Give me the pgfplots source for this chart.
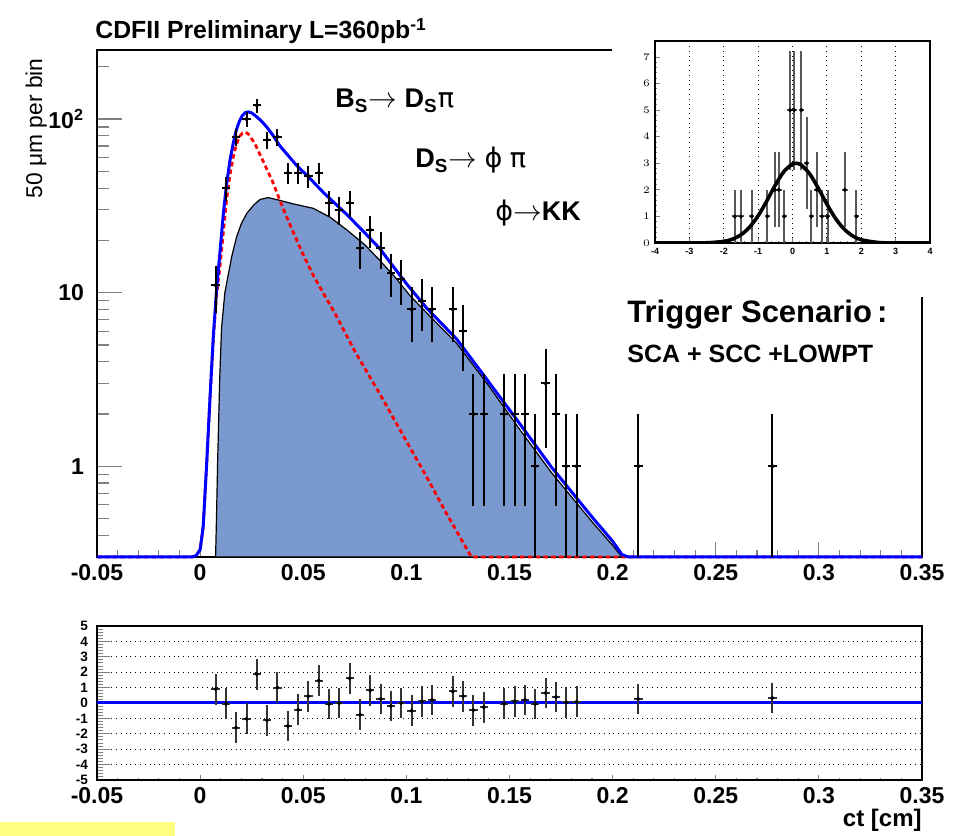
\documentclass[border=0pt]{standalone}
\usepackage{fontspec}
\setmainfont{Liberation Sans}
\newfontfamily\symf{DejaVu Sans}
\usepackage{pgfplots}
\usepackage{pgfplotstable}
\pgfplotsset{compat=1.18}
\definecolor{fillblue}{RGB}{122,153,206}
\definecolor{hiyellow}{RGB}{255,255,128}

\pgfplotstableread{
x y ep em
0.0075 11 3.32 3.32
0.0125 40 6.32 6.32
0.0175 79 8.89 8.89
0.0225 100 10 10
0.0275 120 10.95 10.95
0.0325 76 8.72 8.72
0.0375 79 8.89 8.89
0.0425 49 7 7
0.0475 49 7 7
0.0525 47 6.86 6.86
0.0575 49 7 7
0.0625 33 5.74 5.74
0.0675 30 5.48 5.48
0.0725 33 5.74 5.74
0.0775 18 4.24 4.24
0.0825 23 4.80 4.80
0.0875 18 4.24 4.24
0.0925 13 3.61 3.61
0.0975 12 3.46 3.46
0.1025 8 2.83 2.83
0.1075 9 3 3
0.1125 8 2.83 2.83
0.1225 8 2.83 2.83
0.1275 6 2.45 2.45
0.1325 2 1.41 1.41
0.1375 2 1.41 1.41
0.1475 2 1.41 1.41
0.1525 2 1.41 1.41
0.1575 2 1.41 1.41
0.1625 1 1 0.7
0.1675 3 1.73 1.73
0.1725 2 1.41 1.41
0.1775 1 1 0.7
0.1825 1 1 0.7
0.2125 1 1 0.7
0.2775 1 1 0.7
}\maindata

\pgfplotstableread{
x y
0.0075 0.9
0.0125 -0.05
0.0175 -1.6
0.0225 -1.03
0.0275 1.87
0.0325 -1.12
0.0375 1.0
0.0425 -1.5
0.0475 -0.43
0.0525 0.43
0.0575 1.46
0.0625 -0.06
0.0675 0
0.0725 1.6
0.0775 -0.75
0.0825 0.82
0.0875 0.26
0.0925 -0.2
0.0975 0
0.1025 -0.5
0.1075 0.1
0.1125 0.2
0.1225 0.75
0.1275 0.43
0.1325 -0.47
0.1375 -0.28
0.1475 -0.04
0.1525 0.1
0.1575 0.2
0.1625 -0.06
0.1675 0.65
0.1725 0.39
0.1775 0.04
0.1825 0.08
0.2125 0.26
0.2775 0.32
}\resdata

\pgfplotstableread{
x y e
-1.68 1 1
-1.50 1 1
-1.19 1 1
-0.73 1 1
-0.51 2 1.41
-0.40 2 1.41
-0.24 1 1
-0.07 5 2.24
0.05 5 2.24
0.26 5 2.24
0.41 3 1.73
0.55 1 1
0.70 2 1.41
0.86 1 1
1.02 1 1
1.52 2 1.41
1.86 1 1
}\pulldata

\newcommand{\tl}{\bfseries\fontsize{11.5bp}{13bp}\selectfont}

\begin{document}
\begin{tikzpicture}
\path[use as bounding box] (0,0) rectangle (479bp,418bp);
\fill[hiyellow] (0,0) rectangle (87.5bp,7bp);

% ---------------- main panel
\begin{axis}[
  at={(48.5bp,139.5bp)}, anchor=south west,
  scale only axis, width=412.5bp, height=253.5bp,
  xmin=-0.05, xmax=0.35, ymode=log, ymin=0.3, ymax=250,
  xtick={-0.05,0,0.05,0.1,0.15,0.2,0.25,0.3,0.35},
  xticklabels={-0.05,0,0.05,0.1,0.15,0.2,0.25,0.3,0.35},
  minor x tick num=4,
  ytick={1,10,100}, yticklabels={1,10,10\textsuperscript{2}},
  minor ytick={0.4,0.5,0.6,0.7,0.8,0.9,2,3,4,5,6,7,8,9,20,30,40,50,60,70,80,90,200},
  tick align=inside, xtick pos=bottom, ytick pos=left,
  tick label style={font=\tl},
  yticklabel style={xshift=-3bp},
  xtick style={/pgfplots/major tick length=7.5bp,/pgfplots/minor tick length=3.5bp, line width=0.6bp},
  ytick style={/pgfplots/major tick length=12.5bp,/pgfplots/minor tick length=6bp, line width=0.6bp},
  axis line style={line width=0.8bp},
  clip=false,
]
\addplot[draw=black, line width=0.6bp, fill=fillblue] coordinates {
(0.0075,0.3) (0.008,0.55) (0.0085,1.08) (0.0095,3.2) (0.0104,6.3) (0.012,10)
(0.0137,12.8) (0.0155,16.5) (0.0177,21) (0.02,25) (0.0226,28.6) (0.026,32)
(0.029,34.4) (0.033,35.3) (0.0387,34) (0.045,32.5) (0.0549,30.6) (0.063,27.2)
(0.0711,23) (0.08,18.8) (0.0872,15.3) (0.095,12.1) (0.1018,9.6) (0.112,7.2)
(0.1244,5.1) (0.14,2.9) (0.1551,1.62) (0.17,0.93) (0.1842,0.58) (0.1906,0.47)
(0.2,0.35) (0.2045,0.3)} -- cycle;
\addplot[red, line width=1.4bp, dash pattern=on 2.3bp off 1.6bp] coordinates {
(-0.05,0.3) (-0.004,0.3) (-0.002,0.305) (0,0.33) (0.0015,0.45) (0.0032,1.04)
(0.0048,2.45) (0.0064,5.4) (0.008,9.8) (0.0096,14) (0.0112,22) (0.0128,34)
(0.0145,48) (0.016,60) (0.0175,71) (0.019,79) (0.0205,83) (0.022,84)
(0.0234,82) (0.025,77) (0.0266,72) (0.03,59) (0.035,44) (0.04,31)
(0.045,22.5) (0.05,16.5) (0.055,12.5) (0.06,9.8) (0.0654,7.6) (0.075,4.6)
(0.0872,2.6) (0.0985,1.5) (0.11,0.86) (0.12,0.52) (0.1315,0.3) (0.35,0.3)};
\addplot[blue, line width=1.5bp] coordinates {
(-0.05,0.3) (-0.004,0.3) (-0.002,0.305) (0,0.33) (0.0015,0.45) (0.0032,1.05)
(0.0048,2.5) (0.0064,5.6) (0.008,10.5) (0.0096,17) (0.0112,28) (0.0128,42)
(0.0145,58) (0.016,72) (0.0175,86) (0.019,97) (0.0205,105) (0.022,109)
(0.0234,110) (0.025,108.5) (0.0266,105) (0.0295,98) (0.0323,90) (0.0355,80)
(0.0387,70) (0.043,61) (0.0468,54) (0.0525,46.5) (0.06,37.5) (0.0711,28.2)
(0.08,22) (0.0872,17.9) (0.092,15) (0.1002,11.2) (0.11,8.1) (0.1244,5.4)
(0.14,3.05) (0.1551,1.75) (0.17,1.0) (0.1842,0.62) (0.1906,0.5) (0.2,0.37)
(0.2045,0.31) (0.2075,0.3) (0.35,0.3)};
\addplot[only marks, mark=*, mark size=0.9bp, black,
  error bars/.cd, x dir=both, x fixed=0.002, y dir=both, y explicit,
  error bar style={line width=1bp, black}, error mark=none]
  table[x=x, y=y, y error plus=ep, y error minus=em] {\maindata};
\end{axis}

% cover for the inset pad
\fill[white] (306bp,269.5bp) rectangle (479bp,418bp);

% ---------------- residual panel
\begin{axis}[
  at={(48.5bp,28bp)}, anchor=south west,
  scale only axis, width=412.5bp, height=77bp,
  xmin=-0.05, xmax=0.35, ymin=-5, ymax=5,
  xtick={-0.05,0,0.05,0.1,0.15,0.2,0.25,0.3,0.35},
  xticklabels={-0.05,0,0.05,0.1,0.15,0.2,0.25,0.3,0.35},
  minor x tick num=4,
  ytick={-5,-4,-3,-2,-1,0,1,2,3,4,5},
  yticklabels={-5,-4,-3,-2,-1,0,1,2,3,4,5},
  minor y tick num=4,
  ymajorgrids, grid style={black, dotted, line width=0.5bp},
  tick align=inside, xtick pos=bottom, ytick pos=left,
  xticklabel style={font=\tl},
  yticklabel style={font=\bfseries\fontsize{6.8bp}{6.8bp}\selectfont, xshift=-1bp},
  xtick style={/pgfplots/major tick length=2.5bp,/pgfplots/minor tick length=1.2bp, line width=0.6bp},
  ytick style={/pgfplots/major tick length=6.5bp,/pgfplots/minor tick length=3.2bp, line width=0.5bp},
  axis line style={line width=0.8bp},
]
\addplot[blue, line width=1.5bp] coordinates {(-0.05,0) (0.35,0)};
\addplot[only marks, mark=*, mark size=0.8bp, black,
  error bars/.cd, x dir=both, x fixed=0.002, y dir=both, y fixed=1,
  error bar style={line width=1bp, black!80}, error mark=none]
  table[x=x, y=y] {\resdata};
\end{axis}

% ---------------- inset
\begin{axis}[
  at={(327.5bp,296.5bp)}, anchor=south west,
  scale only axis, width=137.5bp, height=101bp,
  xmin=-4, xmax=4, ymin=0, ymax=7.6,
  xtick={-4,-3,-2,-1,0,1,2,3,4}, ytick={0,1,2,3,4,5,6,7},
  xticklabels={-4,-3,-2,-1,0,1,2,3,4},
  minor x tick num=4, minor y tick num=4,
  xmajorgrids, grid style={black, dotted, line width=0.5bp},
  tick align=inside, xtick pos=bottom, ytick pos=left,
  tick label style={font=\bfseries\fontsize{4.5bp}{4.5bp}\selectfont},
  xticklabel style={yshift=1bp}, yticklabel style={xshift=1bp},
  xtick style={/pgfplots/major tick length=2.5bp,/pgfplots/minor tick length=1.2bp, line width=0.4bp},
  ytick style={/pgfplots/major tick length=2.5bp,/pgfplots/minor tick length=1.2bp, line width=0.4bp},
  axis line style={line width=0.7bp},
]
\addplot[only marks, mark=*, mark size=0.8bp, black,
  error bars/.cd, x dir=both, x fixed=0.08, y dir=both, y explicit,
  error bar style={line width=1bp, black!65}, error mark=none]
  table[x=x, y=y, y error=e] {\pulldata};
\addplot[black, line width=1.8bp, smooth] coordinates {
(-4,0) (-3,0.0006) (-2.5,0.0074) (-2,0.059) (-1.75,0.143) (-1.5,0.308)
(-1.25,0.594) (-1,1.023) (-0.75,1.578) (-0.5,2.178) (-0.25,2.69) (0,2.973)
(0.1,3) (0.25,2.94) (0.5,2.60) (0.75,2.06) (1,1.46) (1.25,0.926) (1.5,0.526)
(1.75,0.267) (2,0.121) (2.5,0.018) (3,0.0017) (4,0)};
\end{axis}

% ---------------- texts
\node[anchor=base west, inner sep=0, font=\bfseries\fontsize{12.4bp}{14bp}\selectfont]
  at (47.5bp,398.5bp) {CDFII Preliminary L=360pb\textsuperscript{-1}};
\node[anchor=base west, inner sep=0, font=\bfseries\fontsize{13.5bp}{15bp}\selectfont]
  at (167.5bp,364bp) {B\textsubscript{S}$\rightarrow$ D\textsubscript{S}{\mdseries\symf π}};
\node[anchor=base west, inner sep=0, font=\bfseries\fontsize{13.5bp}{15bp}\selectfont]
  at (207.5bp,334bp) {D\textsubscript{S}$\rightarrow$ {\mdseries\symf ϕ}\ {\mdseries\symf π}};
\node[anchor=base west, inner sep=0, font=\bfseries\fontsize{13.5bp}{15bp}\selectfont]
  at (247.5bp,307.5bp) {{\mdseries\symf ϕ}$\rightarrow$KK};
\node[anchor=base west, inner sep=0, font=\bfseries\fontsize{15.5bp}{17bp}\selectfont]
  at (313.5bp,256.5bp) {Trigger Scenario\,:};
\node[anchor=base west, inner sep=0, font=\bfseries\fontsize{12.5bp}{14bp}\selectfont]
  at (313.5bp,236.5bp) {SCA + SCC +LOWPT};
\node[anchor=base east, inner sep=0, font=\bfseries\fontsize{12bp}{14bp}\selectfont]
  at (461bp,5bp) {ct [cm]};
\node[anchor=base east, inner sep=0, rotate=90, font=\fontsize{11.4bp}{13bp}\selectfont]
  at (21bp,389bp) {50 μm per bin};
\end{tikzpicture}
\end{document}
